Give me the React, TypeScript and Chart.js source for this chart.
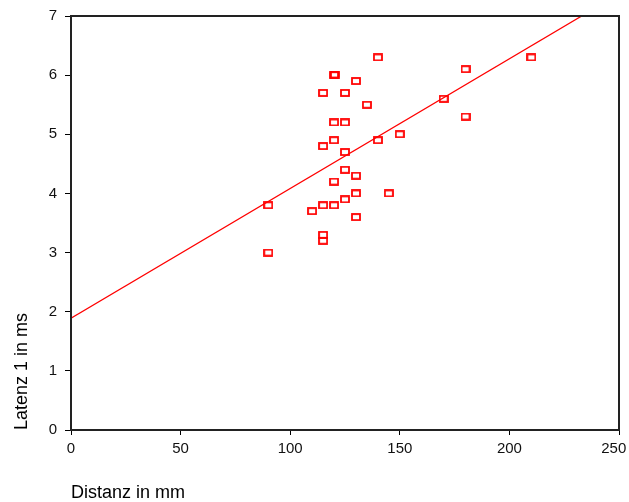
import React, { useEffect, useRef } from "react";
import { Chart, registerables } from "chart.js";

Chart.register(...registerables);

const distanzMm = [90, 90, 110, 115, 115, 115, 115, 115, 120, 120, 120, 120, 120, 120.4, 125, 125, 125, 125, 125, 130, 130, 130, 130, 135, 140, 140, 145, 150, 170, 180, 180, 210];
const latenzMs = [3.8, 3.0, 3.7, 3.8, 3.3, 3.2, 4.8, 5.7, 3.8, 4.2, 4.9, 5.2, 6.0, 6.01, 3.9, 4.4, 4.7, 5.2, 5.7, 3.6, 4.0, 4.3, 5.9, 5.5, 6.3, 4.9, 4.0, 5.0, 5.6, 6.1, 5.3, 6.3];
const fitX = [0, 233];
const fitY = [1.89, 7.0];
const xTicks = [0, 50, 100, 150, 200, 250];
const yTicks = [0, 1, 2, 3, 4, 5, 6, 7];

const FONT = "'Liberation Sans', Arial, sans-serif";

function makeMarker(): HTMLCanvasElement {
  const c = document.createElement("canvas");
  c.width = 10;
  c.height = 8;
  const g = c.getContext("2d")!;
  g.strokeStyle = "#ff0000";
  g.lineWidth = 1.8;
  g.strokeRect(1, 1, 8, 6);
  return c;
}

const framePlugin = {
  id: "frame",
  afterDatasetsDraw(chart: any) {
    const { ctx, chartArea } = chart;
    ctx.save();
    ctx.strokeStyle = "#222";
    ctx.lineWidth = 2;
    ctx.strokeRect(chartArea.left, chartArea.top, chartArea.right - chartArea.left, chartArea.bottom - chartArea.top);
    ctx.restore();
  },
};

export default function App() {
  const ref = useRef<HTMLCanvasElement>(null);
  useEffect(() => {
    if (!ref.current) return;
    const marker = makeMarker();
    const lastX = xTicks[xTicks.length - 1];
    const chart = new Chart(ref.current, {
      type: "scatter",
      data: {
        datasets: [
          {
            data: distanzMm.map((x, i) => ({ x, y: latenzMs[i] })),
            pointStyle: marker as any,
            pointRadius: 5,
            borderColor: "#ff0000",
            backgroundColor: "#ffffff",
          },
          {
            data: fitX.map((x, i) => ({ x, y: fitY[i] })),
            showLine: true,
            pointRadius: 0,
            borderColor: "#ff0000",
            borderWidth: 1.3,
          },
        ],
      },
      options: {
        animation: false,
        responsive: false,
        layout: { padding: { top: 16, right: 10, left: 0, bottom: 0 } },
        plugins: { legend: { display: false }, tooltip: { enabled: false } },
        scales: {
          x: {
            type: "linear",
            min: 0,
            max: 250,
            afterBuildTicks: (s: any) => {
              s.ticks = xTicks.map((v) => ({ value: v }));
            },
            afterFit: (s: any) => {
              s.height = 72;
              s.paddingLeft = 0;
              s.paddingRight = 0;
            },
            grid: { drawOnChartArea: false, drawTicks: true, tickLength: 5, color: "#000", lineWidth: 1 },
            border: { display: true, color: "#000", width: 2 },
            ticks: {
              color: "#111",
              padding: 5,
              font: { family: FONT, size: 15 },
              maxRotation: 0,
              callback: (v: any) => (v === lastX ? String(v) + "\u2002\u2009" : String(v)),
            },
            title: {
              display: true,
              text: "Distanz in mm",
              align: "start",
              color: "#000",
              font: { family: FONT, size: 18, lineHeight: 1 },
              padding: { top: 0, bottom: 0 },
            },
          },
          y: {
            type: "linear",
            min: 0,
            max: 7,
            afterBuildTicks: (s: any) => {
              s.ticks = yTicks.map((v) => ({ value: v }));
            },
            afterFit: (s: any) => {
              s.width = 71;
              s.paddingTop = 0;
              s.paddingBottom = 0;
            },
            grid: { drawOnChartArea: false, drawTicks: true, tickLength: 6, color: "#000", lineWidth: 1 },
            border: { display: true, color: "#000", width: 2 },
            ticks: { color: "#111", padding: 8, font: { family: FONT, size: 15 } },
            title: {
              display: true,
              text: "Latenz 1 in ms",
              align: "start",
              color: "#000",
              font: { family: FONT, size: 18, lineHeight: 1 },
              padding: { top: 13, bottom: 0 },
            },
          },
        },
      },
      plugins: [framePlugin],
    });
    return () => chart.destroy();
  }, []);
  return (
    <div style={{ position: "absolute", left: 0, top: 0, width: 629, height: 502, background: "#fff" }}>
      <canvas ref={ref} width={629} height={502} />
    </div>
  );
}
